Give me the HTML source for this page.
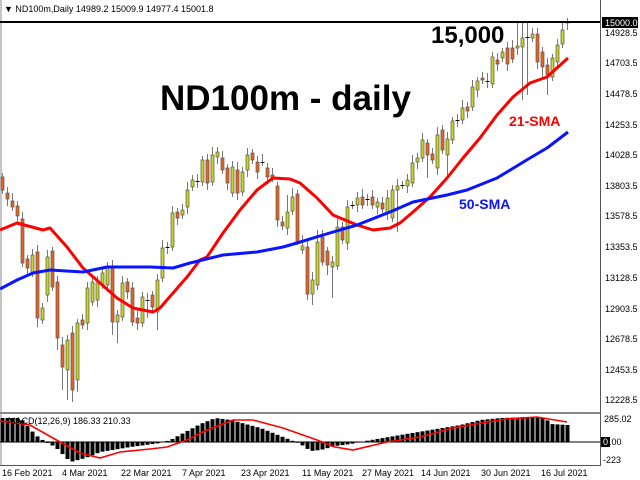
<!DOCTYPE html>
<html><head><meta charset="utf-8"><style>
html,body{margin:0;padding:0;background:#fff;}
svg{display:block;font-family:"Liberation Sans",sans-serif;}
</style></head><body>
<svg id="s" width="640" height="480" viewBox="0 0 640 480" xmlns="http://www.w3.org/2000/svg">
<rect width="640" height="480" fill="#fff"/>
<line x1="1" y1="0" x2="1" y2="466" stroke="#888" stroke-width="1"/>
<line x1="600.5" y1="0" x2="600.5" y2="466" stroke="#555" stroke-width="1"/>
<line x1="0" y1="465.5" x2="600" y2="465.5" stroke="#555" stroke-width="1"/>
<line x1="0" y1="413" x2="600" y2="413" stroke="#888" stroke-width="2"/>
<text x="4" y="12" font-size="9" fill="#000">▼ ND100m,Daily  14989.2 15009.9 14977.4 15001.8</text>
<g id="ma"></g>
<g id="c"></g>
<polyline id="red" fill="none" stroke="#ff0000" stroke-width="3" stroke-linejoin="round"/>
<polyline id="blue" fill="none" stroke="#0a14ff" stroke-width="3" stroke-linejoin="round"/>
<line x1="0" y1="22" x2="600" y2="22" stroke="#000" stroke-width="2"/>
<g id="macd"></g>
<line x1="0" y1="442" x2="600" y2="442" stroke="#000" stroke-width="1"/>
<polyline id="sig" fill="none" stroke="#ff0000" stroke-width="1.6"/>
<text x="8" y="424" font-size="9" fill="#000">MACD(12,26,9) 186.33 210.33</text>
<text x="160" y="110" font-size="35" font-weight="bold" fill="#000">ND100m - daily</text>
<text x="431" y="43" font-size="24" font-weight="bold" fill="#000">15,000</text>
<text x="509" y="126" font-size="14" font-weight="bold" fill="#ff0000">21-SMA</text>
<text x="459" y="209" font-size="14" font-weight="bold" fill="#0a14ff">50-SMA</text>
<g font-size="9" fill="#000">
<rect x="602" y="17" width="36" height="11" fill="#000"/>
<text x="605" y="26" fill="#fff">15000.0</text>
<text x="605" y="36">14928.5</text>
<text x="605" y="66">14703.5</text>
<text x="605" y="97">14478.5</text>
<text x="605" y="128">14253.5</text>
<text x="605" y="158">14028.5</text>
<text x="605" y="189">13803.5</text>
<text x="605" y="219">13578.5</text>
<text x="605" y="250">13353.5</text>
<text x="605" y="281">13128.5</text>
<text x="605" y="312">12903.5</text>
<text x="605" y="342">12678.5</text>
<text x="605" y="373">12453.5</text>
<text x="605" y="403">12228.5</text>
<text x="604" y="422">285.02</text>
<rect x="601" y="437" width="9" height="10" fill="#000"/>
<text x="603" y="445" fill="#fff">0</text><text x="609" y="445">.00</text>
<text x="603" y="463">-223</text>
<text x="2" y="476">16 Feb 2021</text>
<text x="62" y="476">4 Mar 2021</text>
<text x="121" y="476">22 Mar 2021</text>
<text x="182" y="476">7 Apr 2021</text>
<text x="241" y="476">23 Apr 2021</text>
<text x="302" y="476">11 May 2021</text>
<text x="362" y="476">27 May 2021</text>
<text x="421" y="476">14 Jun 2021</text>
<text x="481" y="476">30 Jun 2021</text>
<text x="541" y="476">16 Jul 2021</text>
</g>
</svg>
<script>
(function(){
var NS="http://www.w3.org/2000/svg";
function el(t,a,p){var e=document.createElementNS(NS,t);for(var k in a)e.setAttribute(k,a[k]);p.appendChild(e);return e;}
var d=[[177,190],[193,199],[201,207],[206,216],[219,263],[259,268],[273,255],[252,318],[320,308],[295,257],[251,287],[282,338],[345,367],[370,340],[333,390],[380,323],[320,325],[323,288],[302,282],[300,283],[285,273],[285,267],[268,322],[322,315],[317,283],[282,292],[288,322],[318,323],[323,297],[300,300],[295,307],[312,280],[278,248],[247,247],[247,213],[212,218],[215,210],[207,190],[187,180],[181,181],[182,160],[160,183],[182,155],[157,152],[158,170],[168,183],[193,167],[170,193],[192,172],[170,155],[153,160],[162,172],[162,162],[168,177],[175,178],[186,220],[222,226],[228,212],[211,197],[194,242],[250,246],[247,294],[294,280],[285,242],[237,262],[251,265],[267,262],[266,227],[227,240],[243,207],[205,205],[205,198],[197,205],[199,199],[197,205],[207,202],[203,209],[213,198],[218,190],[190,186],[185,185],[186,180],[183,163],[162,158],[158,140],[143,155],[154,160],[168,135],[130,150],[155,139],[140,121],[120,120],[120,108],[107,111],[107,87],[90,81],[78,80],[81,81],[84,57],[60,64],[58,52],[48,64],[48,59],[48,46],[47,38],[37,37],[38,34],[34,62],[52,67],[65,75],[77,58],[62,45],[44,30],[23,22]];
var longLow={7:327,12:390,13:400,14:402,15:392,11:350,22:335,23:343,29:318,31:330,59:245,61:300,62:305,63:290,65:275,66:298,67:270,79:232,85:178,89:178,104:100,105:95,108:80,109:95};
var longHigh={7:245,57:195,58:188,59:190,60:235,63:230,21:262,17:282,103:22,104:22,105:22,107:28,113:18};
var g=document.getElementById("c");
for(var i=0;i<d.length;i++){
 var x=2+5*i,o=d[i][0],c=d[i][1];
 var top=Math.min(o,c),bot=Math.max(o,c);
 var hi=longHigh[i]||top-4-((i*7)%5),lo=longLow[i]||bot+4+((i*3)%6);
 el("line",{x1:x+0.5,y1:hi,x2:x+0.5,y2:lo,stroke:"#777","stroke-width":1},g);
 if(bot-top<1){el("line",{x1:x-1.5,y1:top+0.5,x2:x+2.5,y2:top+0.5,stroke:"#000","stroke-width":1},g);}
 else el("rect",{x:x-1,y:top,width:3,height:bot-top,fill:(c<o?"#c8d41e":"#e8641e"),stroke:"#555","stroke-width":0.7},g);
}
var red=[[0,230],[17,223],[43,230],[50,228],[67,247],[83,268],[100,283],[117,298],[133,308],[143,310],[153,312],[160,308],[173,293],[187,277],[200,260],[207,257],[223,233],[240,210],[257,190],[273,178],[290,179],[300,183],[317,198],[333,215],[357,225],[373,230],[390,228],[400,223],[413,212],[430,197],[447,178],[463,158],[480,138],[497,115],[513,97],[530,83],[547,77],[568,58]];
var blue=[[0,289],[17,280],[33,273],[50,270],[83,272],[107,267],[150,267],[173,268],[190,263],[223,255],[257,252],[283,247],[297,243],[323,235],[357,225],[390,212],[413,202],[447,195],[467,190],[497,178],[530,158],[547,148],[568,132]];
function pts(a){return a.map(function(p){return p.join(",");}).join(" ");}
document.getElementById("red").setAttribute("points",pts(red));
document.getElementById("blue").setAttribute("points",pts(blue));
var sig=[[0,421],[30,425],[60,442],[80,453],[100,458],[120,452],[150,449],[167,447],[187,440],[207,430],[233,420],[253,420],[283,428],[317,440],[335,447],[353,450],[387,442],[420,437],[453,428],[487,422],[507,419],[537,417],[567,422]];
document.getElementById("sig").setAttribute("points",pts(sig));
var h=[[2,418],[20,418],[35,435],[45,442],[55,447],[70,462],[85,458],[100,452],[130,447],[160,443],[170,440],[185,432],[200,424],[215,418],[230,420],[260,428],[290,440],[300,444],[310,451],[320,450],[335,446],[350,444],[365,441],[400,435],[430,430],[460,425],[480,420],[500,418],[530,417],[545,418],[550,424],[567,425]];
function interp(x){for(var k=0;k<h.length-1;k++){if(x>=h[k][0]&&x<=h[k+1][0]){var t=(x-h[k][0])/(h[k+1][0]-h[k][0]);return h[k][1]+t*(h[k+1][1]-h[k][1]);}}return h[h.length-1][1];}
var m=document.getElementById("macd");
for(var i=0;i<d.length;i++){var x=2+5*i,y=interp(x);var t=Math.min(y,442),b=Math.max(y,442);
 if(b-t>0.5)el("rect",{x:x-1.5,y:t,width:4,height:b-t,fill:"#000"},m);}
})();
</script>
</body></html>
